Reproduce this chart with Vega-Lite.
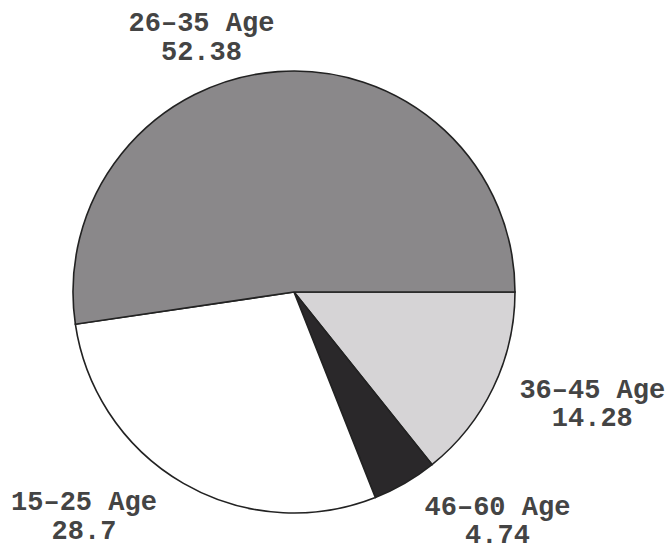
{
  "$schema": "https://vega.github.io/schema/vega-lite/v6.json",
  "width": 588,
  "height": 520,
  "autosize": {"type": "none"},
  "padding": {"left": 0, "top": 32, "right": 78, "bottom": 0},
  "background": "white",
  "config": {"view": {"stroke": null}},
  "data": {
    "values": [
      {"age": "36–45 Age", "pct": 14.28, "rank": 1, "label": "36–45 Age\n14.28"},
      {"age": "46–60 Age", "pct": 4.74, "rank": 2, "label": "46–60 Age\n4.74"},
      {"age": "15–25 Age", "pct": 28.7, "rank": 3, "label": "15–25 Age\n28.7"},
      {"age": "26–35 Age", "pct": 52.38, "rank": 4, "label": "26–35 Age\n52.38"}
    ]
  },
  "encoding": {
    "theta": {"field": "pct", "type": "quantitative", "stack": true, "scale": {"range": [1.5707963, 7.8539816]}},
    "order": {"field": "rank", "type": "quantitative", "sort": "ascending"}
  },
  "layer": [
    {
      "mark": {"type": "arc", "outerRadius": 221, "stroke": "#222222", "strokeWidth": 1.6},
      "encoding": {
        "color": {
          "field": "age",
          "type": "nominal",
          "legend": null,
          "scale": {
            "domain": ["36–45 Age", "46–60 Age", "15–25 Age", "26–35 Age"],
            "range": ["#d6d4d6", "#2a282a", "#ffffff", "#8a888a"]
          }
        }
      }
    },
    {
      "mark": {"type": "text", "radius": 240, "font": "Liberation Mono", "fontSize": 27, "fontWeight": "bold", "lineBreak": "\n", "lineHeight": 28, "fill": "#444444", "align": "center", "baseline": "middle", "dx": 82, "dy": -6},
      "encoding": {"text": {"condition": {"test": "datum.rank === 1", "field": "label"}, "value": ""}}
    },
    {
      "mark": {"type": "text", "radius": 240, "font": "Liberation Mono", "fontSize": 27, "fontWeight": "bold", "lineBreak": "\n", "lineHeight": 28, "fill": "#444444", "align": "center", "baseline": "middle", "dx": 83, "dy": 7},
      "encoding": {"text": {"condition": {"test": "datum.rank === 2", "field": "label"}, "value": ""}}
    },
    {
      "mark": {"type": "text", "radius": 240, "font": "Liberation Mono", "fontSize": 27, "fontWeight": "bold", "lineBreak": "\n", "lineHeight": 29, "fill": "#444444", "align": "center", "baseline": "middle", "dx": -90, "dy": 2},
      "encoding": {"text": {"condition": {"test": "datum.rank === 3", "field": "label"}, "value": ""}}
    },
    {
      "mark": {"type": "text", "radius": 240, "font": "Liberation Mono", "fontSize": 27, "fontWeight": "bold", "lineBreak": "\n", "lineHeight": 29, "fill": "#444444", "align": "center", "baseline": "middle", "dx": -75, "dy": -30},
      "encoding": {"text": {"condition": {"test": "datum.rank === 4", "field": "label"}, "value": ""}}
    }
  ]
}
